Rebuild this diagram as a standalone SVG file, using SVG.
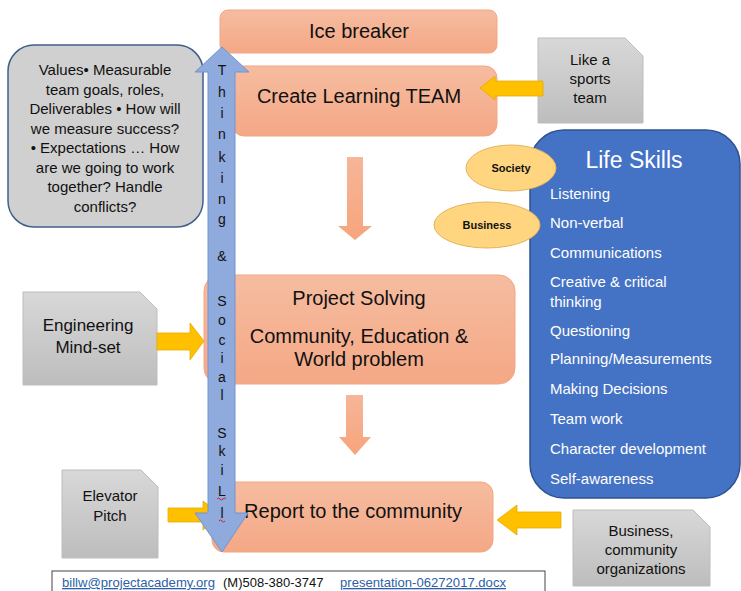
<svg xmlns="http://www.w3.org/2000/svg" width="741" height="591" viewBox="0 0 741 591">
<defs>
<linearGradient id="sal" x1="0" y1="0" x2="0" y2="1"><stop offset="0" stop-color="#F6BCA0"/><stop offset="1" stop-color="#F4A886"/></linearGradient>
<linearGradient id="salv" x1="0" y1="0" x2="0" y2="1"><stop offset="0" stop-color="#F6B698"/><stop offset="1" stop-color="#F7A47C"/></linearGradient>
<linearGradient id="gry" x1="0" y1="0" x2="0" y2="1"><stop offset="0" stop-color="#D8D8D8"/><stop offset="1" stop-color="#BDBDBD"/></linearGradient>
<style>
.box{fill:url(#sal);stroke:#F2A784;stroke-width:1}
.gbox{fill:url(#gry);stroke:#BDBDBD;stroke-width:1}
.yarr{fill:#FFC000;stroke:#E5AC00;stroke-width:0.8}
.oarr{fill:url(#salv)}
.t{font-family:"Liberation Sans",Arial,sans-serif;fill:#111;text-anchor:middle}
.big{font-size:20px}
.mid{font-size:15px}
.ls{font-family:"Liberation Sans",Arial,sans-serif;fill:#fff;font-size:15px}
.vl{font-family:"Liberation Sans",Arial,sans-serif;font-size:14px;fill:#111;text-anchor:middle}
.ell{fill:#FFD67F;stroke:#E2B35C;stroke-width:1}
.et{font-family:"Liberation Sans",Arial,sans-serif;font-size:11px;font-weight:bold;fill:#111;text-anchor:middle}
.ft{font-family:"Liberation Sans",Arial,sans-serif;font-size:13px}
</style>
</defs>
<rect width="741" height="591" fill="#fff"/>

<g id="values">
<rect x="8" y="45" width="195" height="182" rx="26" fill="#D0D0D0" stroke="#3F5F8C" stroke-width="1.5"/>
<g class="t" font-size="15px">
<text x="105" y="75">Values• Measurable</text>
<text x="105" y="94.5">team goals, roles,</text>
<text x="105" y="114">Deliverables • How will</text>
<text x="105" y="133.5">we measure success?</text>
<text x="105" y="153">• Expectations … How</text>
<text x="105" y="172.5">are we going to work</text>
<text x="105" y="192">together? Handle</text>
<text x="105" y="211.5">conflicts?</text>
</g>
</g>

<g id="icebreaker">
<rect class="box" x="220" y="10" width="277" height="43" rx="8"/>
<text class="t big" x="359" y="38">Ice breaker</text>
</g>

<g id="create-team">
<rect class="box" x="232" y="66" width="265" height="70" rx="12"/>
<text class="t big" x="359" y="103">Create Learning TEAM</text>
</g>

<g id="project-solving">
<rect class="box" x="204" y="275" width="311" height="109" rx="16"/>
<text class="t big" x="359" y="305">Project Solving</text>
<text class="t big" x="359" y="343">Community, Education &amp;</text>
<text class="t big" x="359" y="366">World problem</text>
</g>

<g id="report">
<rect class="box" x="212" y="482" width="281" height="70" rx="12"/>
<text class="t big" x="353" y="518">Report to the community</text>
</g>

<g id="sports-team">
<path class="gbox" d="M538,38 H625 L643,56 V123 H538 Z"/>
<text class="t mid" x="590" y="65">Like a</text>
<text class="t mid" x="590" y="84">sports</text>
<text class="t mid" x="590" y="103">team</text>
</g>

<g id="engineering">
<path class="gbox" d="M23,292 H140 L157,309 V385 H23 Z"/>
<text class="t" font-size="17px" x="88" y="331">Engineering</text>
<text class="t" font-size="17px" x="88" y="353">Mind-set</text>
</g>

<g id="elevator">
<path class="gbox" d="M62,470 H141 L158,487 V558 H62 Z"/>
<text class="t mid" x="110" y="501">Elevator</text>
<text class="t mid" x="110" y="521">Pitch</text>
</g>

<g id="business-orgs">
<path class="gbox" d="M573,510 H693 L710,527 V586 H573 Z"/>
<text class="t mid" x="641" y="536">Business,</text>
<text class="t mid" x="641" y="555">community</text>
<text class="t mid" x="641" y="574">organizations</text>
</g>

<g id="life-skills">
<rect x="530" y="130" width="210" height="368" rx="34" fill="#4472C4" stroke="#2F528F" stroke-width="1.5"/>
<text x="634" y="168" font-family="Liberation Sans, Arial, sans-serif" font-size="23px" fill="#fff" text-anchor="middle">Life Skills</text>
<text class="ls" x="550" y="199">Listening</text>
<text class="ls" x="550" y="228">Non-verbal</text>
<text class="ls" x="550" y="258">Communications</text>
<text class="ls" x="550" y="287">Creative &amp; critical</text>
<text class="ls" x="550" y="307">thinking</text>
<text class="ls" x="550" y="336">Questioning</text>
<text class="ls" x="550" y="364">Planning/Measurements</text>
<text class="ls" x="550" y="394">Making Decisions</text>
<text class="ls" x="550" y="424">Team work</text>
<text class="ls" x="550" y="454">Character development</text>
<text class="ls" x="550" y="484">Self-awareness</text>
</g>

<g id="society">
<ellipse class="ell" cx="511" cy="168" rx="45" ry="23"/>
<text class="et" x="511" y="172">Society</text>
</g>
<g id="business">
<ellipse class="ell" cx="487" cy="225" rx="53" ry="23"/>
<text class="et" x="487" y="229">Business</text>
</g>

<g id="connectors">
<polygon class="oarr" points="347,157 363,157 363,226 372,226 355,240 338,226 347,226"/>
<polygon class="oarr" points="346,395 363,395 363,437 371,437 355,455 339,437 346,437"/>
<polygon class="yarr" points="480,88 495,76 495,81 543,81 543,96 495,96 495,100"/>
<polygon class="yarr" points="157,333 190,333 190,323 204,341 190,360 190,350 157,350"/>
<polygon class="yarr" points="168,508 203,508 203,501 222,515 203,530 203,522 168,522"/>
<polygon class="yarr" points="497,520 517,505 517,512 561,512 561,528 517,528 517,535"/>
<polygon points="222,47 249,72 235,72 235,513 248,513 222,552 195,513 208,513 208,72 195,72" fill="#8FAADC" stroke="#7393CF" stroke-width="1"/>
<g class="vl">
<text x="222" y="75">T</text>
<text x="222" y="97">h</text>
<text x="222" y="118">i</text>
<text x="222" y="139">n</text>
<text x="222" y="162">k</text>
<text x="222" y="183">i</text>
<text x="222" y="204">n</text>
<text x="222" y="224">g</text>
<text x="222" y="261">&amp;</text>
<text x="222" y="306">S</text>
<text x="222" y="325">o</text>
<text x="222" y="345">c</text>
<text x="222" y="363">i</text>
<text x="222" y="382">a</text>
<text x="222" y="400">l</text>
<text x="222" y="438">S</text>
<text x="222" y="456">k</text>
<text x="222" y="475">i</text>
<text x="222" y="496">L</text>
<text x="222" y="518">l</text>
</g>
<path d="M217,499 q1.5,-2 3,0 t3,0 t3,0" fill="none" stroke="#D02020" stroke-width="1"/>
<path d="M219,521 q1.5,-2 3,0 t3,0" fill="none" stroke="#D02020" stroke-width="1"/>
</g>

<g id="footer">
<rect x="52" y="571" width="493" height="30" fill="#fff" stroke="#444" stroke-width="1"/>
<text class="ft" x="62" y="587" fill="#2E5FA8" text-decoration="underline" textLength="153" lengthAdjust="spacingAndGlyphs">billw@projectacademy.org</text>
<text class="ft" x="223" y="587" fill="#111">(M)508-380-3747</text>
<text class="ft" x="340" y="587" fill="#2E5FA8" text-decoration="underline" textLength="166" lengthAdjust="spacingAndGlyphs">presentation-06272017.docx</text>
</g>
</svg>
